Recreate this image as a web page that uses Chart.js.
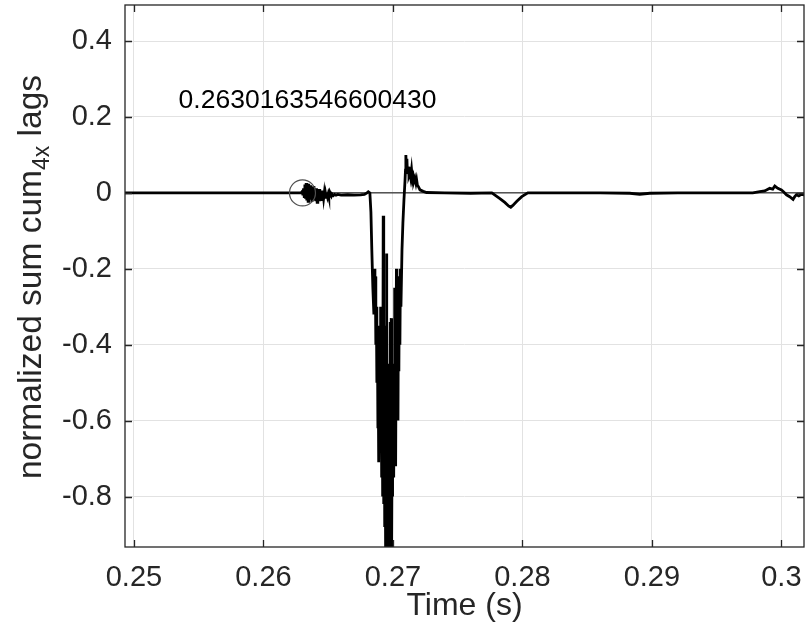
<!DOCTYPE html>
<html>
<head>
<meta charset="utf-8">
<script src="https://cdn.jsdelivr.net/npm/chart.js@4/dist/chart.umd.min.js"></script>
<style>
  html, body { margin: 0; padding: 0; background: #fff; }
</style>
</head>
<body>
<canvas id="chart" width="812" height="631"></canvas>
<script>
// Data
const timeS = [
  0.2490, 0.2620, 0.26290,
  0.26300, 0.26305, 0.26310, 0.26315, 0.26320, 0.26325, 0.26330, 0.26335, 0.26340, 0.26345,
  0.26350, 0.26355, 0.26360, 0.26365, 0.26370, 0.26375, 0.26380, 0.26385, 0.26390, 0.26395,
  0.26400, 0.26405, 0.26410, 0.26415, 0.26420, 0.26425, 0.26430, 0.26435, 0.26440, 0.26445,
  0.26450, 0.26455, 0.26460, 0.26465, 0.26470, 0.26475, 0.26480, 0.26485, 0.26490, 0.26495,
  0.26500, 0.26505, 0.26510, 0.26515, 0.26520, 0.26525, 0.26530, 0.26540, 0.26550, 0.26560,
  0.26575, 0.26600, 0.26650, 0.26700, 0.26750, 0.26780, 0.26800, 0.26810,
  0.26822, 0.26830, 0.26837, 0.26845, 0.26853, 0.26857, 0.26861, 0.26864, 0.26868, 0.26872,
  0.26876, 0.26880,
  0.26884, 0.26886, 0.26888, 0.26890, 0.26892, 0.26894, 0.26895, 0.26897, 0.26899, 0.26901,
  0.26903, 0.26905, 0.26907, 0.26909, 0.26911, 0.26913, 0.26915, 0.26917, 0.26919, 0.26921,
  0.26922, 0.26925, 0.26927, 0.26929, 0.26931, 0.26933, 0.26935, 0.26938, 0.26940, 0.26942,
  0.26944, 0.26946, 0.26948, 0.26950, 0.26952, 0.26954, 0.26956, 0.26958, 0.26959, 0.26961,
  0.26963, 0.26965, 0.26967, 0.26969, 0.26971, 0.26973, 0.26975, 0.26976, 0.26979, 0.26981,
  0.26983, 0.26985, 0.26987, 0.26989, 0.26991, 0.26993, 0.26995, 0.26997, 0.27000, 0.27002,
  0.27004, 0.27006, 0.27008, 0.27010, 0.27012, 0.27014, 0.27015, 0.27017, 0.27019, 0.27021,
  0.27023,
  0.27027, 0.27031, 0.27035, 0.27039, 0.27043, 0.27046, 0.27050, 0.27054, 0.27058, 0.27062,
  0.27070, 0.27077, 0.27085, 0.27093, 0.27097, 0.27100, 0.27104, 0.27108, 0.27112, 0.27118,
  0.27124, 0.27131, 0.27137, 0.27144, 0.27151, 0.27157, 0.27162, 0.27170, 0.27178, 0.27183,
  0.27189, 0.27196, 0.27209, 0.27234, 0.27260,
  0.2740, 0.2760, 0.27764, 0.27826, 0.27864, 0.27895, 0.27910, 0.27926, 0.27957, 0.27995,
  0.28042, 0.2820, 0.2860, 0.28829, 0.28906, 0.28984, 0.2920, 0.2960,
  0.29779, 0.29833, 0.29871, 0.29910, 0.29933, 0.29949, 0.29972, 0.30000, 0.30018, 0.30039,
  0.30064, 0.30090, 0.30103, 0.30116, 0.30134, 0.30155, 0.30188
];
const sumCum = [
  0, 0, 0,
  0.004, -0.006, 0.012, -0.010, 0.022, -0.015, 0.026, -0.020, 0.018, -0.022,
  0.024, -0.012, 0.020, -0.018, 0.016, -0.024, 0.014, -0.016, 0.018, -0.020,
  0.010, -0.022, 0.012, -0.025, 0.008, -0.018, 0.010, -0.022, 0.004, -0.016,
  0.006, -0.018, 0.002, -0.014, 0.000, -0.015, -0.002, -0.012, -0.001, -0.010,
  -0.003, -0.011, -0.002, -0.009, -0.004, -0.008, -0.003, -0.007, -0.004, -0.006,
  -0.004, -0.006, -0.005, -0.006, -0.005, -0.004, 0.000, 0.003,
  0.000, -0.05, -0.15, -0.25, -0.32, -0.20, -0.31, -0.22, -0.40, -0.30,
  -0.50, -0.35,
  -0.62, -0.45, -0.70, -0.42, -0.71, -0.50, -0.45, -0.66, -0.60, -0.40,
  -0.30, -0.68, -0.65, -0.45, -0.40, -0.75, -0.72, -0.50, -0.35, -0.78,
  -0.80, -0.06, -0.70, -0.60, -0.82, -0.35, -0.88, -0.85, -0.62, -0.55,
  -0.95, -0.98, -0.70, -0.90, -0.16, -0.85, -0.70, -0.98, -0.45, -1.00,
  -0.75, -0.60, -0.99, -0.95, -0.70, -0.50, -0.97, -1.00, -0.34, -0.88,
  -0.90, -0.60, -0.33, -0.92, -0.95, -0.70, -0.55, -0.80, -0.73, -0.60,
  -0.45, -0.74, -0.75, -0.50, -0.25, -0.70, -0.72, -0.55, -0.40, -0.71,
  -0.72,
  -0.20, -0.55, -0.30, -0.60, -0.25, -0.47, -0.22, -0.40, -0.20, -0.30,
  -0.15, -0.08, -0.02, 0.03, 0.06, 0.10, 0.06, 0.09, 0.05, 0.069,
  0.045, 0.052, 0.040, 0.061, 0.035, 0.043, 0.030, 0.039, 0.025, 0.034,
  0.020, 0.017, 0.008, 0.004, 0.001,
  0.000, -0.001, 0.000, -0.015, -0.025, -0.035, -0.038, -0.033, -0.022, -0.010,
  0.000, 0.000, 0.000, -0.001, -0.004, -0.001, 0.000, 0.000,
  0.000, 0.003, 0.005, 0.012, 0.010, 0.018, 0.012, 0.008, 0.002, -0.005,
  -0.010, -0.017, -0.010, -0.005, -0.008, -0.004, -0.006
];

const zeroLineX = [0.2490, 0.3020];
const zeroLineY = [0, 0];

const onsetTime = [0.2630163546600430];
const onsetValue = [0];
const onsetLabel = '0.2630163546600430';
const labelPos = [0.25345, 0.242];

const xTicks = [0.25, 0.26, 0.27, 0.28, 0.29, 0.30];
const xTickLabels = ['0.25', '0.26', '0.27', '0.28', '0.29', '0.3'];
const yTicks = [-0.8, -0.6, -0.4, -0.2, 0, 0.2, 0.4];
const yTickLabels = ['-0.8', '-0.6', '-0.4', '-0.2', '0', '0.2', '0.4'];

const X_MIN = 0.24931, X_MAX = 0.301745;
const Y_MIN = -0.933, Y_MAX = 0.495;

const FONT = '"Liberation Sans", Arial, Helvetica, sans-serif';
const AXIS_COLOR = '#262626';

const toPoints = (xs, ys) => xs.map((x, i) => ({ x: x, y: ys[i] }));

// box, inward ticks, titles and the text label
const decorations = {
  id: 'decorations',
  afterDatasetsDraw(chart) {
    const ctx = chart.ctx;
    const xs = chart.scales.x, ys = chart.scales.y;
    ctx.save();
    ctx.font = '26.5px ' + FONT;
    ctx.fillStyle = '#000';
    ctx.textBaseline = 'middle';
    ctx.textAlign = 'left';
    ctx.fillText(onsetLabel, xs.getPixelForValue(labelPos[0]), ys.getPixelForValue(labelPos[1]));
    ctx.restore();
  },
  afterDraw(chart) {
    const ctx = chart.ctx;
    const a = chart.chartArea;
    const xs = chart.scales.x, ys = chart.scales.y;
    ctx.save();
    ctx.strokeStyle = AXIS_COLOR;
    ctx.lineWidth = 1.3;
    ctx.strokeRect(a.left, a.top, a.right - a.left, a.bottom - a.top);
    ctx.beginPath();
    const tl = 7;
    xTicks.forEach(v => {
      const px = Math.round(xs.getPixelForValue(v)) + 0.5;
      ctx.moveTo(px, a.bottom); ctx.lineTo(px, a.bottom - tl);
      ctx.moveTo(px, a.top); ctx.lineTo(px, a.top + tl);
    });
    yTicks.forEach(v => {
      const py = Math.round(ys.getPixelForValue(v)) + 0.5;
      ctx.moveTo(a.left, py); ctx.lineTo(a.left + tl, py);
      ctx.moveTo(a.right, py); ctx.lineTo(a.right - tl, py);
    });
    ctx.stroke();

    // x title
    ctx.fillStyle = AXIS_COLOR;
    ctx.font = '32px ' + FONT;
    ctx.textAlign = 'center';
    ctx.textBaseline = 'middle';
    ctx.fillText('Time (s)', (a.left + a.right) / 2, 606);

    // y title with subscript
    const main1 = 'normalized sum cum', sub = '4x', main2 = ' lags';
    const big = '33.5px ' + FONT, small = '23px ' + FONT;
    ctx.font = big;
    const w1 = ctx.measureText(main1).width, w3 = ctx.measureText(main2).width;
    ctx.font = small;
    const w2 = ctx.measureText(sub).width;
    const total = w1 + w2 + w3;
    ctx.translate(41, 277);
    ctx.rotate(-Math.PI / 2);
    ctx.textAlign = 'left';
    ctx.textBaseline = 'alphabetic';
    let x0 = -total / 2;
    ctx.font = big;
    ctx.fillText(main1, x0, 0);
    ctx.font = small;
    ctx.fillText(sub, x0 + w1, 8);
    ctx.font = big;
    ctx.fillText(main2, x0 + w1 + w2, 0);
    ctx.restore();
  }
};

const noLabelPadding = s => {
  s.paddingLeft = 0; s.paddingRight = 0; s.paddingTop = 0; s.paddingBottom = 0;
};

new Chart(document.getElementById('chart'), {
  type: 'line',
  data: {
    datasets: [
      {
        data: toPoints(onsetTime, onsetValue),
        showLine: false,
        pointRadius: 13,
        pointBorderWidth: 1.2,
        pointBorderColor: '#505050',
        pointBackgroundColor: 'rgba(0,0,0,0)'
      },
      {
        data: toPoints(timeS, sumCum),
        borderColor: '#000',
        borderWidth: 2.8,
        pointRadius: 0,
        tension: 0
      },
      {
        data: toPoints(zeroLineX, zeroLineY),
        borderColor: '#000',
        borderWidth: 1,
        pointRadius: 0,
        tension: 0
      }
    ]
  },
  options: {
    responsive: false,
    animation: false,
    layout: { autoPadding: false, padding: { left: 0, right: 8, top: 5, bottom: 0 } },
    plugins: { legend: { display: false }, tooltip: { enabled: false } },
    scales: {
      x: {
        type: 'linear',
        min: X_MIN,
        max: X_MAX,
        afterBuildTicks: s => { s.ticks = xTicks.map(v => ({ value: v })); },
        afterFit: s => { s.height = 84; noLabelPadding(s); },
        grid: { color: '#e2e2e2', drawTicks: false },
        border: { display: false },
        ticks: {
          font: { family: FONT, size: 29 },
          color: AXIS_COLOR,
          padding: 14,
          maxRotation: 0,
          autoSkip: false,
          callback: (v, i) => xTickLabels[i]
        }
      },
      y: {
        min: Y_MIN,
        max: Y_MAX,
        afterBuildTicks: s => { s.ticks = yTicks.map(v => ({ value: v })); },
        afterFit: s => { s.width = 125; noLabelPadding(s); },
        grid: { color: '#e2e2e2', drawTicks: false },
        border: { display: false },
        ticks: {
          font: { family: FONT, size: 29 },
          color: AXIS_COLOR,
          padding: 13,
          autoSkip: false,
          callback: (v, i) => yTickLabels[i]
        }
      }
    }
  },
  plugins: [decorations]
});
</script>
</body>
</html>
